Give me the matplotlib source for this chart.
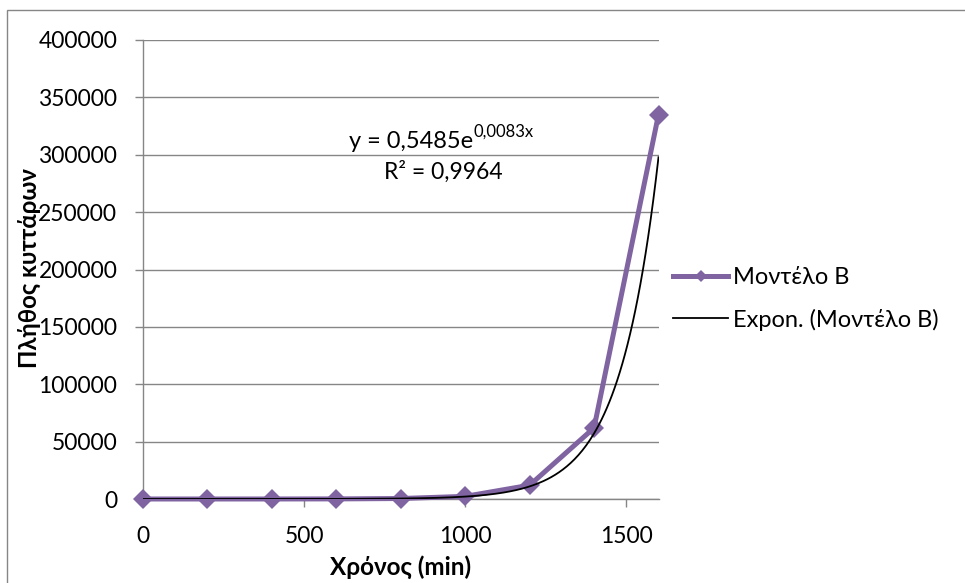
import numpy as np
import matplotlib
matplotlib.use("Agg")
import matplotlib.pyplot as plt
from matplotlib.patches import Rectangle
from matplotlib.transforms import Affine2D

# Cell count over time for "Model B"
time_min = [0, 200, 400, 600, 800, 1000, 1200, 1400, 1600]
cells = [1, 3, 16, 80, 420, 2300, 12000, 62000, 335000]

# Exponential trend y = a * exp(b * x)
trend_a = 0.5485
trend_b = 0.008253
trend_r2 = 0.9964

x_ticks = [0, 500, 1000, 1500]
y_ticks = list(range(0, 400001, 50000))

series_label = "Μοντέλο Β"
trend_label = "Expon. (Μοντέλο Β)"
x_title = "Χρόνος (min)"
y_title = "Πλήθος κυττάρων"

purple = "#8064A2"
grid_grey = "#868686"

plt.rcParams["font.family"] = ["Lato", "DejaVu Sans"]

W, H = 965, 583
fig = plt.figure(figsize=(W / 100, H / 100), dpi=100)
# pixel coordinates measured from the top-left corner
px = Affine2D().scale(1, -1).translate(0, H)

# chart-area frame (left and top edges visible)
fig.patches.append(Rectangle((7 / W, -0.1), 1.2, 1 - 10 / H + 0.1,
                             transform=fig.transFigure, fill=False,
                             edgecolor=grid_grey, linewidth=1.0))

left, right, top, bottom = 143, 658.5, 40, 499
ax = fig.add_axes([left / W, 1 - bottom / H, (right - left) / W, (bottom - top) / H])

ax.set_xlim(0, 1600)
ax.set_ylim(0, 400000)
ax.set_xticks(x_ticks)
ax.set_yticks(y_ticks)
ax.set_xticklabels([str(v) for v in x_ticks])
ax.set_yticklabels([str(v) for v in y_ticks])

for s in ("top", "right"):
    ax.spines[s].set_visible(False)
for s in ("left", "bottom"):
    ax.spines[s].set_color(grid_grey)
    ax.spines[s].set_linewidth(1.0)

ax.grid(axis="y", color=grid_grey, linewidth=1.0)
ax.set_axisbelow(True)
ax.tick_params(axis="both", direction="out", length=5.5, width=1.0,
               color=grid_grey, labelsize=16.5, labelcolor="black")
ax.tick_params(axis="x", pad=14)
ax.tick_params(axis="y", pad=13)

ax.plot(time_min, cells, color=purple, linewidth=3.6, marker="D",
        markersize=9.8, markeredgewidth=0, label=series_label, zorder=3,
        clip_on=False)

xs = np.linspace(0, 1600, 400)
ax.plot(xs, trend_a * np.exp(trend_b * xs), color="black", linewidth=1.3,
        label=trend_label, zorder=4)

# trend equation and R²
fmt = lambda v, n: f"{v:.{n}f}".replace(".", ",")
eq = fig.text(349, 148, f"y = {fmt(trend_a, 4)}e", fontsize=17,
              va="baseline", ha="left", transform=px)
ax.annotate(f"{fmt(trend_b, 4)}x", xy=(1, 1), xycoords=eq, fontsize=12,
            va="top", ha="left", xytext=(0.5, 5), textcoords="offset points")
fig.text(443, 179, f"R² = {fmt(trend_r2, 4)}", fontsize=16.5,
         va="baseline", ha="center", transform=px)

ax.set_xlabel(x_title, fontsize=17.5, fontweight="bold", labelpad=6)
fig.text(29 / W, 1 - 268 / H, y_title, rotation=90, fontsize=17.3,
         fontweight="bold", ha="center", va="center")

ax.legend(loc="center left", bbox_to_anchor=(673 / W, 1 - 299 / H),
          bbox_transform=fig.transFigure, frameon=False, fontsize=17,
          handlelength=2.35, handletextpad=0.2, labelspacing=0.85,
          markerscale=0.62, borderpad=0, borderaxespad=0)

fig.savefig("out.png", dpi=100)
